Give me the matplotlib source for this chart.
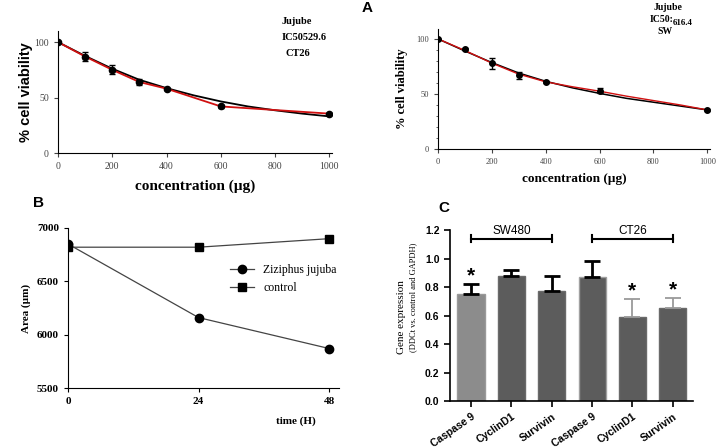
import matplotlib
matplotlib.use('Agg')
import matplotlib.pyplot as plt

W, H = 722, 448

# Panel A - CT26
conc = [0, 100, 200, 300, 400, 600, 1000]
ct26_mean = [100, 87, 75, 64, 58, 42, 35.5]
ct26_err = [0, 4, 4, 3, 1, 1, 1]
fit_x = [0, 100, 200, 300, 400, 500, 600, 700, 800, 900, 1000]
ct26_fit = [100, 87.5, 76, 66, 58.5, 52, 46.5, 42, 38.5, 35.5, 33]

# Panel A - SW
sw_mean = [100, 90.5, 78, 67, 61, 53, 35.5]
sw_err = [0, 1, 5, 3, 1, 2, 1]
sw_fit = [100, 89, 78.5, 69, 61.5, 55.5, 50.5, 46, 42.5, 39, 35.5]
sw_fit2 = [100, 89.5, 78, 68, 61, 56.5, 52.5, 48, 44, 40, 35.5]

# Panel B
hours = [0, 24, 48]
jujuba_area = [6850, 6160, 5870]
control_area = [6820, 6820, 6900]

# Panel C
genes = ['Caspase 9', 'CyclinD1', 'Survivin', 'Caspase 9', 'CyclinD1', 'Survivin']
expr = [0.75, 0.88, 0.775, 0.87, 0.59, 0.65]
expr_err = [0.07, 0.04, 0.105, 0.11, 0.125, 0.07]
starred = [0, 4, 5]

SERIF = 'Liberation Serif'
SANS = 'Liberation Sans'


def ax_px(fig, left, top, right, bottom):
    return fig.add_axes([left / W, 1 - bottom / H, (right - left) / W, (bottom - top) / H])


def fig_text(fig, x, y, s, **kw):
    fig.text(x / W, 1 - y / H, s, **kw)


fig = plt.figure(figsize=(W / 100, H / 100), dpi=100)

# ---- A left (CT26)
ax1 = ax_px(fig, 58, 31, 332, 153)
ax1.plot(fit_x, ct26_fit, color='black', lw=1.3, zorder=2)
ax1.plot(conc, ct26_mean, color='#d01010', lw=1.3, zorder=3)
ax1.errorbar(conc, ct26_mean, yerr=ct26_err, fmt='o', color='black', ms=4.5,
             capsize=2.5, elinewidth=1, zorder=4)
ax1.set_xlim(0, 1010)
ax1.set_ylim(0, 110)
ax1.set_xticks([0, 200, 400, 600, 800, 1000])
ax1.set_yticks([0, 50, 100])
for s in ['top', 'right']:
    ax1.spines[s].set_visible(False)
ax1.tick_params(labelsize=7, colors='#444', length=3)
for lab in ax1.get_xticklabels() + ax1.get_yticklabels():
    lab.set_fontfamily(SERIF)
ax1.set_xlabel('concentration (µg)', fontfamily=SERIF, fontweight='bold', fontsize=11, labelpad=6)
ax1.set_ylabel('% cell viability', fontfamily=SANS, fontweight='bold', fontsize=10.5, labelpad=1)
fig_text(fig, 282, 21, 'Jujube', fontfamily=SERIF, fontweight='bold', fontsize=7.5, va='center')
fig_text(fig, 282, 37, 'IC50529.6', fontfamily=SERIF, fontweight='bold', fontsize=7.5, va='center')
fig_text(fig, 285, 54, 'CT26', fontfamily=SERIF, fontweight='bold', fontsize=7.5, va='center')
fig_text(fig, 362, 8, 'A', fontfamily=SANS, fontweight='bold', fontsize=11, va='center')

# ---- A right (SW)
ax2 = ax_px(fig, 438, 29, 710, 149)
ax2.plot(fit_x, sw_fit, color='black', lw=1.1, zorder=2)
ax2.plot(fit_x, sw_fit2, color='#d01010', lw=1.0, zorder=3)
ax2.errorbar(conc, sw_mean, yerr=sw_err, fmt='o', color='black', ms=4,
             capsize=2.5, elinewidth=1, zorder=4)
ax2.set_xlim(0, 1010)
ax2.set_ylim(0, 109)
ax2.set_xticks([0, 200, 400, 600, 800, 1000])
ax2.set_yticks([0, 50, 100])
ax2.set_yticks(range(0, 110, 10), minor=True)
for s in ['top', 'right']:
    ax2.spines[s].set_visible(False)
ax2.tick_params(labelsize=6, colors='#444', length=3)
ax2.tick_params(which='minor', length=1.5, colors='#444')
for lab in ax2.get_xticklabels() + ax2.get_yticklabels():
    lab.set_fontfamily(SERIF)
ax2.set_xlabel('concentration (µg)', fontfamily=SERIF, fontweight='bold', fontsize=9.5, labelpad=5)
ax2.set_ylabel('% cell viability', fontfamily=SERIF, fontweight='bold', fontsize=9, labelpad=6)
fig_text(fig, 668, 8, 'Jujube', fontfamily=SERIF, fontweight='bold', fontsize=7, va='center', ha='center')
fig_text(fig, 650, 20, 'IC50:', fontfamily=SERIF, fontweight='bold', fontsize=7, va='center')
fig_text(fig, 673, 23, '616.4', fontfamily=SERIF, fontweight='bold', fontsize=6.5, va='center')
fig_text(fig, 657, 32, 'SW', fontfamily=SERIF, fontweight='bold', fontsize=7, va='center')

# ---- B
ax3 = ax_px(fig, 68, 228, 339, 388)
ax3.plot(hours, jujuba_area, color='#444', lw=0.9, marker='o', ms=6,
         mfc='black', mec='black', label='Ziziphus jujuba')
ax3.plot(hours, control_area, color='#444', lw=0.9, marker='s', ms=6,
         mfc='black', mec='black', label='control')
ax3.set_xlim(0, 49.8)
ax3.set_ylim(5500, 7000)
ax3.set_xticks(hours)
ax3.set_yticks([5500, 6000, 6500, 7000])
for s in ['top', 'right']:
    ax3.spines[s].set_visible(False)
ax3.tick_params(labelsize=8, length=3)
for lab in ax3.get_xticklabels() + ax3.get_yticklabels():
    lab.set_fontfamily(SERIF)
    lab.set_fontweight('bold')
ax3.set_ylabel('Area (µm)', fontfamily=SERIF, fontweight='bold', fontsize=8, labelpad=4)
ax3.set_xlabel('time (H)', fontfamily=SERIF, fontweight='bold', fontsize=8)
ax3.xaxis.set_label_coords(0.84, -0.18)
ax3.legend(loc='upper left', bbox_to_anchor=(0.56, 0.84), frameon=False,
           prop={'family': SERIF, 'size': 8.5}, handlelength=2, labelspacing=0.5)
fig_text(fig, 33, 203, 'B', fontfamily=SANS, fontweight='bold', fontsize=11, va='center')

# ---- C
ax4 = ax_px(fig, 450, 230, 693, 401)
pos = list(range(len(genes)))
colors = ['#8c8c8c'] + ['#5c5c5c'] * 5
edges = ['#9a9a9a', '#6a6a6a', '#6a6a6a', '#a0a0a0', '#6a6a6a', '#6a6a6a']
ax4.bar(pos, expr, width=0.67, color=colors, edgecolor=edges, lw=1, zorder=2)
for i in pos:
    ec = 'black' if i < 4 else '#9a9a9a'
    lw = 2 if i < 4 else 1.3
    ax4.errorbar(i, expr[i], yerr=[[0], [expr_err[i]]], fmt='none', ecolor=ec,
                 elinewidth=lw, capsize=6, capthick=lw, zorder=3)
for i in starred:
    ax4.text(i, expr[i] + expr_err[i] - 0.01, '*', ha='center', va='bottom',
             fontsize=15, fontweight='bold', fontfamily=SANS)
ax4.set_xlim(-0.52, 5.5)
ax4.set_ylim(0, 1.2)
ax4.set_yticks([0, 0.2, 0.4, 0.6, 0.8, 1.0, 1.2])
ax4.set_yticklabels(['0.0', '0.2', '0.4', '0.6', '0.8', '1.0', '1.2'],
                    fontfamily=SANS, fontweight='bold', fontsize=7.5)
ax4.set_xticks(pos)
ax4.set_xticklabels(genes, rotation=35, ha='right', rotation_mode='anchor',
                    fontfamily=SANS, fontweight='bold', fontsize=7.5)
for s in ['top', 'right']:
    ax4.spines[s].set_visible(False)
ax4.spines['left'].set_linewidth(1.2)
ax4.spines['bottom'].set_linewidth(1.2)
ax4.tick_params(length=4, width=1.2)
for lo, hi, name in [(0, 2, 'SW480'), (3, 5, 'CT26')]:
    ax4.plot([lo, hi], [1.14, 1.14], color='black', lw=1.5, clip_on=False)
    ax4.plot([lo, lo], [1.115, 1.165], color='black', lw=1.5, clip_on=False)
    ax4.plot([hi, hi], [1.115, 1.165], color='black', lw=1.5, clip_on=False)
    ax4.text((lo + hi) / 2, 1.19, name, ha='center', va='center',
             fontfamily=SANS, fontsize=8.5, clip_on=False)
fig_text(fig, 401, 317, 'Gene expression', fontfamily=SERIF, fontsize=8,
         rotation=90, ha='center', va='center')
fig_text(fig, 413, 297, '(DDCt vs. control and GAPDH)', fontfamily=SERIF,
         fontsize=6, rotation=90, ha='center', va='center')
fig_text(fig, 438, 208, 'C', fontfamily=SANS, fontweight='bold', fontsize=11, va='center')

fig.savefig('out.png', dpi=100)
